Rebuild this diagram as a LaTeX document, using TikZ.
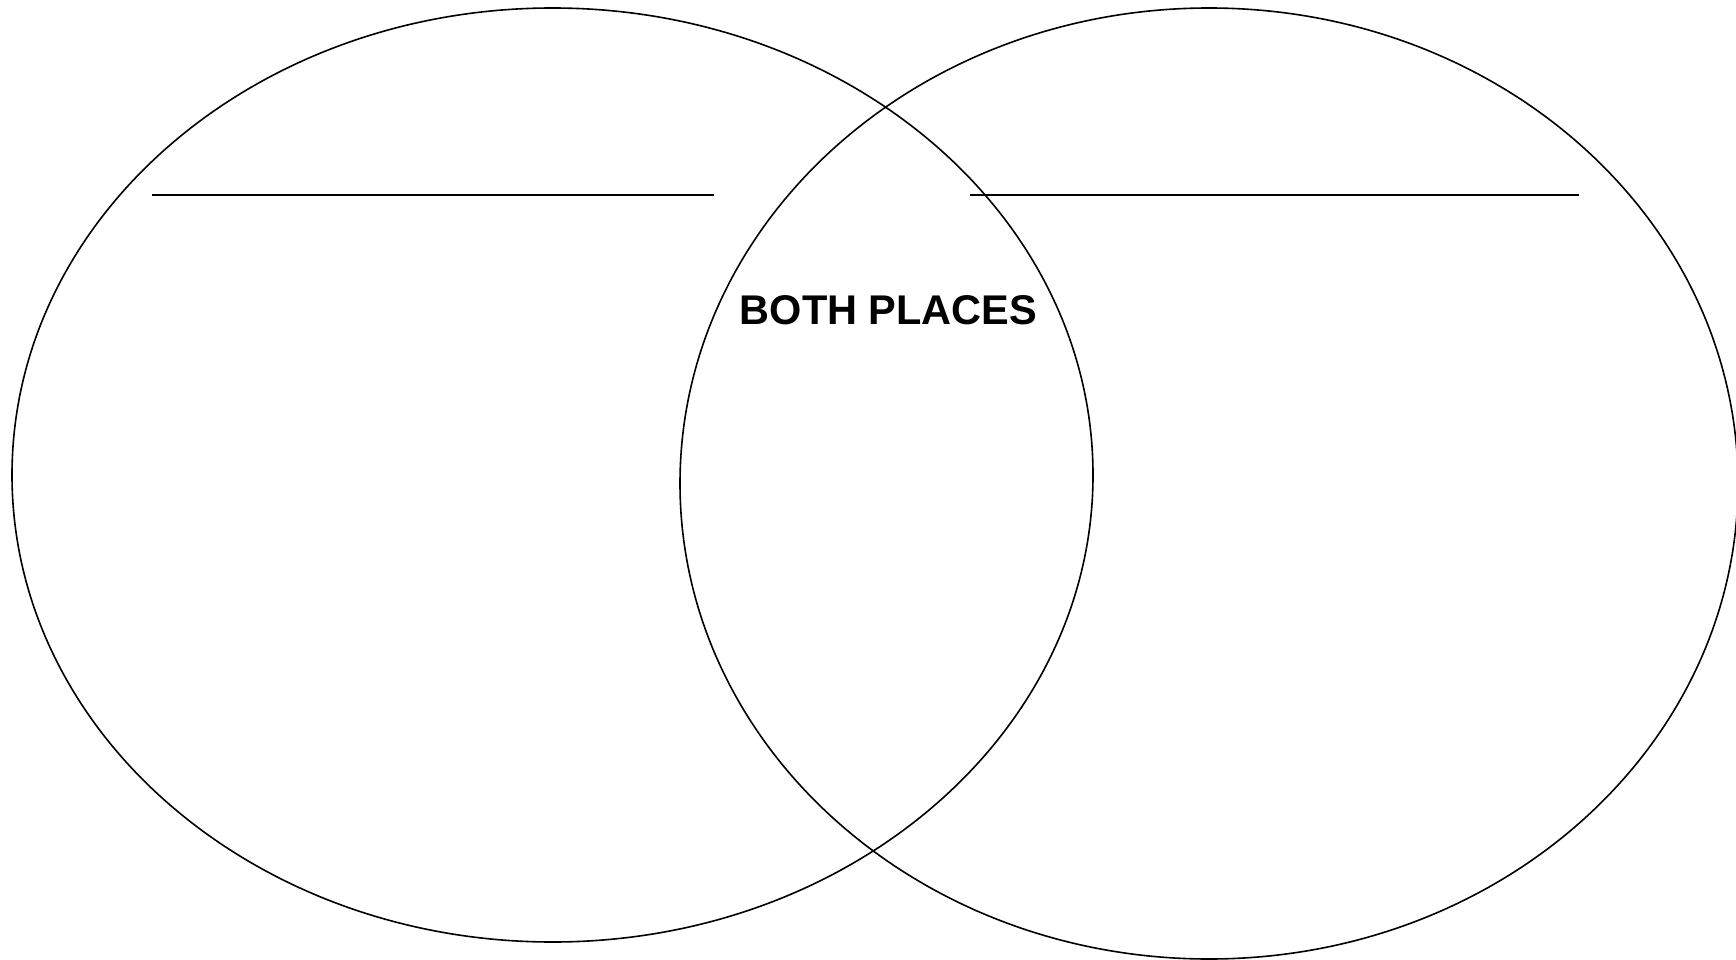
\documentclass[tikz,border=0pt]{standalone}
\usepackage{fontspec}
\setmainfont{Liberation Sans}
\begin{document}
\begin{tikzpicture}[x=1pt,y=-1pt,
  outline/.style={draw=black,line width=1.6pt},
  blank/.style={draw=black,line width=1.8pt},
  title/.style={font=\fontsize{41.5}{48}\selectfont\bfseries,inner sep=0pt}]
\useasboundingbox (0,0) rectangle (1736,960);
\fill[white] (0,0) rectangle (1736,960);
\draw[outline] (552.5,475) ellipse [x radius=540.5, y radius=467];
\draw[outline] (1209,483.5) ellipse [x radius=529, y radius=475.5];
\draw[blank] (152,195) -- (714,195);
\draw[blank] (970,195) -- (1579,195);
\node[title] (both) at (888.5,310) {BOTH PLACES};
\end{tikzpicture}
\end{document}
